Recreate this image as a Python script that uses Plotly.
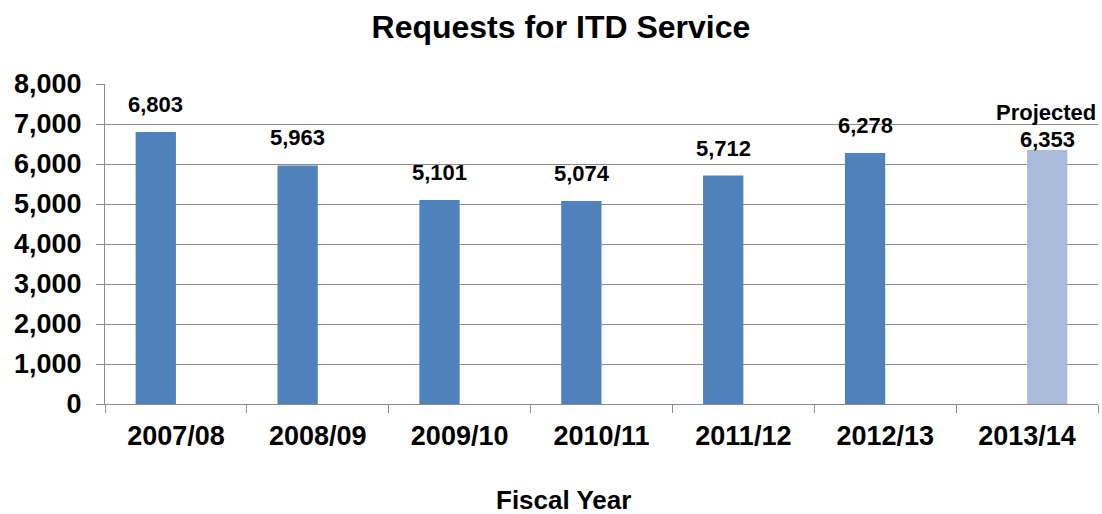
import plotly.graph_objects as go

categories = ["2007/08", "2008/09", "2009/10", "2010/11", "2011/12", "2012/13", "2013/14"]
actual = [6803, 5963, 5101, 5074, 5712, 6278, None]
projected = [None, None, None, None, None, None, 6353]
y_ticks = [0, 1000, 2000, 3000, 4000, 5000, 6000, 7000, 8000]

FONT = "Liberation Sans, Arial, sans-serif"
ACTUAL = "#4F81BD"
PROJ = "#A9BBD9"
GRID = "#8C8C8C"

fig = go.Figure()
fig.add_trace(go.Bar(name="Actual", x=categories, y=actual,
                     marker=dict(color=ACTUAL, line=dict(width=0)), hoverinfo="x+y"))
fig.add_trace(go.Bar(name="Projected", x=categories, y=projected,
                     marker=dict(color=PROJ, line=dict(width=0)), hoverinfo="x+y"))

for c, v in zip(categories, actual):
    if v is None:
        continue
    fig.add_annotation(x=c, y=v, xref="x", yref="y", text=f"<b>{v:,}</b>",
                       showarrow=False, yanchor="bottom", yshift=13, xshift=-20,
                       font=dict(family=FONT, size=22, color="black"))
for c, v in zip(categories, projected):
    if v is None:
        continue
    fig.add_annotation(x=c, y=v, xref="x", yref="y", text=f"<b>{v:,}</b>",
                       showarrow=False, yanchor="bottom", yshift=-4, xshift=20,
                       font=dict(family=FONT, size=22, color="black"))
    fig.add_annotation(x=c, y=v, xref="x", yref="y", text="<b>Projected</b>",
                       showarrow=False, yanchor="bottom", yshift=23, xshift=19,
                       font=dict(family=FONT, size=22, color="black"))

fig.add_annotation(x=0.462, y=-0.30, xref="paper", yref="paper", text="<b>Fiscal Year</b>",
                   showarrow=False, xanchor="center", yanchor="middle",
                   font=dict(family=FONT, size=26, color="black"))

fig.update_layout(
    width=1102, height=514,
    margin=dict(l=105, r=4, t=84, b=110, autoexpand=False),
    paper_bgcolor="white", plot_bgcolor="white",
    showlegend=False,
    barmode="group", bargap=0.432, bargroupgap=0,
    font=dict(family=FONT, color="black"),
    title=dict(text="<b>Requests for ITD Service</b>", x=0.509, xanchor="center",
               y=1 - 27 / 514, yanchor="middle", yref="container",
               font=dict(family=FONT, size=32, color="black")),
)

fig.update_xaxes(
    type="category", range=[-0.5, 6.5], automargin=False,
    showline=True, linecolor=GRID, linewidth=1,
    ticks="outside", tickson="boundaries", ticklen=8, tickcolor=GRID, tickwidth=1,
    tickfont=dict(family=FONT, size=27, color="black"),
    tickprefix="<b>", ticksuffix="</b>",
    ticklabelstandoff=8,
    showgrid=False,
)
fig.update_yaxes(
    range=[0, 8000], tickvals=y_ticks, ticktext=[f"<b>{t:,}</b>" for t in y_ticks],
    automargin=False,
    showline=True, linecolor=GRID, linewidth=1,
    ticks="outside", ticklen=8, tickcolor=GRID, tickwidth=1,
    showgrid=True, gridcolor=GRID, gridwidth=1,
    zeroline=False,
    tickfont=dict(family=FONT, size=27, color="black"),
    ticklabelstandoff=9,
)

fig.write_html("out.html", config={"displayModeBar": False},
               post_script="document.body.style.margin='0';")
